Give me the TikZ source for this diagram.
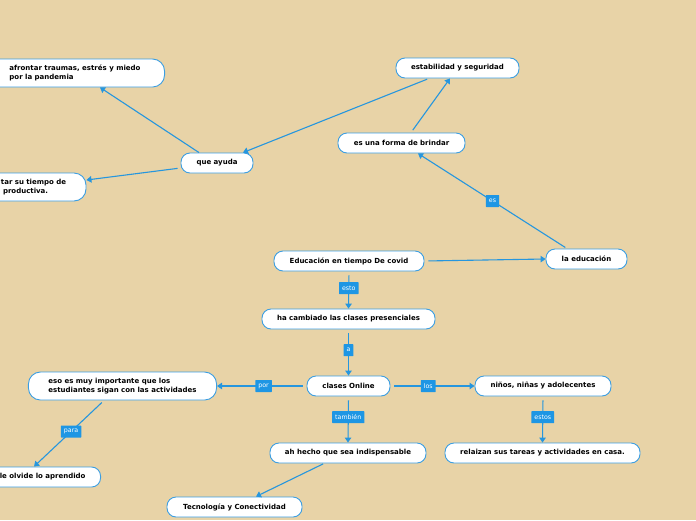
\documentclass[tikz,border=0pt]{standalone}
\usepackage{fontspec}
\setmainfont{DejaVu Sans}
\usetikzlibrary{arrows.meta}
\definecolor{bg}{RGB}{232,211,167}
\definecolor{ln}{RGB}{38,150,222}
\definecolor{bd}{RGB}{60,158,225}
\definecolor{lab}{RGB}{30,150,228}
\tikzset{
 box/.style={draw=bd, fill=white, rounded corners=9pt, line width=0.9pt, minimum height=20pt, inner ysep=2pt, font=\fontsize{7}{8.5}\selectfont\bfseries, text=black},
 conn/.style={draw=ln, line width=1.1pt, -{Triangle[length=5pt,width=6.5pt]}},
 lbl/.style={fill=lab, text=white, font=\fontsize{6.3}{7}\selectfont, inner xsep=3pt, minimum height=12pt, inner ysep=1pt, rounded corners=0.5pt},
}
\begin{document}
\begin{tikzpicture}[x=1pt,y=-1pt]
\useasboundingbox (0,0) rectangle (696,520);
\clip (0,0) rectangle (696,520);
\fill[bg] (0,0) rectangle (696,520);

\node[box, minimum width=123pt] (est) at (457.5,68) {estabilidad y seguridad};
\node[box, minimum width=127pt] (esf) at (401.5,143) {es una forma de brindar};
\node[box, minimum width=72pt] (qa) at (217,163) {que ayuda};
\node[box, minimum width=150pt] (edu) at (349,261) {Educación en tiempo De covid};
\node[box, minimum width=81pt] (lae) at (586.5,259) {la educación};
\node[box, minimum width=173pt] (ham) at (348.5,319) {ha cambiado las clases presenciales};
\node[box, minimum width=83pt] (cl) at (348.5,386) {clases Online};
\node[box, minimum width=136pt] (ni) at (543,386) {niños, niñas y adolecentes};
\node[box, minimum width=156pt] (ah) at (348,453) {ah hecho que sea indispensable};
\node[box, minimum width=195pt] (rel) at (542.5,453) {relaizan sus tareas y actividades en casa.};
\node[box, minimum width=135pt] (tec) at (234.5,507) {Tecnología y Conectividad};
\node[box, align=left, inner xsep=20pt, minimum height=28pt, minimum width=187pt, rounded corners=12pt] (eso) at (122.5,386) {eso es muy importante que los\\estudiantes sigan con las actividades};
\node[box, align=left, inner xsep=24pt, minimum height=28pt, anchor=east, rounded corners=12pt] (af) at (165,73) {afrontar traumas, estrés y miedo\\por la pandemia};
\node[box, align=left, text width=68pt, inner xsep=17pt, minimum height=28pt, rounded corners=12pt] (zar) at (35,187) {tar su tiempo de\\\hspace*{2pt}productiva.};
\node[box, inner xsep=15pt, anchor=east] (lo) at (101,477) {le olvide lo aprendido};

\draw[conn] ([xshift=-18pt]qa.north) -- ([xshift=-65pt]af.south east);
\draw[conn, shorten <=3pt] ([yshift=-5pt]qa.west) -- ([yshift=7pt]zar.east);
\draw[conn, shorten <=2pt] ([xshift=-28.5pt]est.south) -- ([xshift=26pt]qa.north);
\draw[conn, shorten <=3pt] ([xshift=9.5pt]esf.north) -- ([xshift=-7.5pt]est.south);
\draw[conn, shorten <=2pt] ([xshift=-19.5pt]lae.north) -- node[lbl]{es} ([xshift=16.5pt]esf.south);
\draw[conn, shorten <=4pt] (edu.east) -- (lae.west);
\draw[conn, shorten <=4pt] (edu.south) -- node[lbl, pos=0.45]{esto} (ham.north);
\draw[conn, shorten <=4pt] (ham.south) -- node[lbl, pos=0.45]{a} (cl.north);
\draw[conn, shorten <=4pt] (cl.west) -- node[lbl, pos=0.48]{por} (eso.east);
\draw[conn, shorten <=4pt] (cl.east) -- node[lbl, pos=0.45]{los} (ni.west);
\draw[conn, shorten <=4pt] (cl.south) -- node[lbl, pos=0.45]{también} (ah.north);
\draw[conn, shorten <=4pt] (ni.south) -- node[lbl, pos=0.45]{estos} (rel.north);
\draw[conn, shorten <=3pt] ([xshift=-18.5pt]eso.south) -- node[lbl, pos=0.47]{para} ([xshift=-67pt]lo.north east);
\draw[conn, shorten <=1pt] ([xshift=-24pt]ah.south) -- ([xshift=21.5pt]tec.north);
\end{tikzpicture}
\end{document}
